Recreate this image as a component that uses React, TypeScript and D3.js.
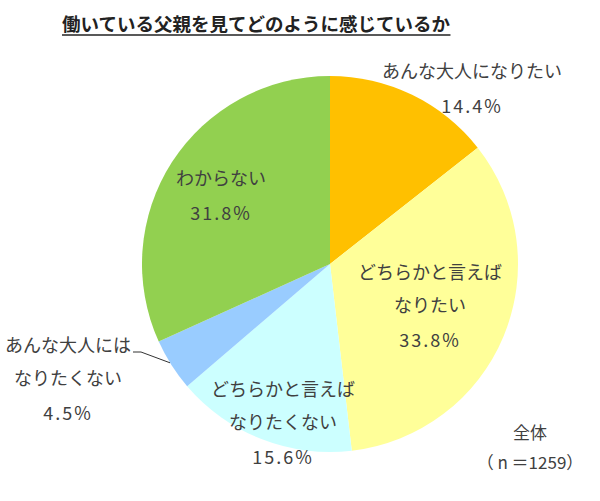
import { useRef, useEffect } from 'react'
import * as d3 from 'd3'

const categories = ['あんな大人になりたい', 'どちらかと言えばなりたい', 'どちらかと言えばなりたくない', 'あんな大人にはなりたくない', 'わからない']
const values = [14.4, 33.8, 15.6, 4.5, 31.8]
const colors = ['#FFC000', '#FFFF99', '#CCFFFF', '#99CCFF', '#92D050']
// label lines and their positions (centre x, first baseline)
const labelLines = [
  ['あんな大人になりたい', '14.4%'],
  ['どちらかと言えば', 'なりたい', '33.8%'],
  ['どちらかと言えば', 'なりたくない', '15.6%'],
  ['あんな大人には', 'なりたくない', '4.5%'],
  ['わからない', '31.8%'],
]
const labelPos: [number, number][] = [[472, 78], [430, 279], [283, 396], [68, 352], [221, 185]]

export default function App() {
  const svgRef = useRef<SVGSVGElement>(null)

  useEffect(() => {
    if (!svgRef.current) return
    const svg = d3.select(svgRef.current)
    svg.selectAll('*').remove()

    const width = 600
    const height = 501
    const cx = 330
    const cy = 264
    const radius = 188
    const font = "'Noto Sans CJK JP', 'Noto Sans', sans-serif"
    const textColor = '#404040'

    svg.attr('width', width).attr('height', height).attr('viewBox', `0 0 ${width} ${height}`)
    svg.append('rect').attr('width', width).attr('height', height).attr('fill', '#fff')

    // Title
    const title = svg.append('text')
      .attr('x', 256).attr('y', 31)
      .attr('text-anchor', 'middle')
      .style('font-family', font).style('font-size', '18.5px').style('font-weight', '700')
      .style('fill', '#222')
      .text('働いている父親を見てどのように感じているか')
    const tb = (title.node() as SVGTextElement).getBBox()
    svg.append('line')
      .attr('x1', tb.x).attr('x2', tb.x + tb.width)
      .attr('y1', 35).attr('y2', 35)
      .attr('stroke', '#222').attr('stroke-width', 1.5)

    const pie = d3.pie<number>().sort(null).value(d => d)
    const arcs = pie(values)
    const arc = d3.arc<d3.PieArcDatum<number>>().innerRadius(0).outerRadius(radius)

    const g = svg.append('g').attr('transform', `translate(${cx},${cy})`)
    g.selectAll('path')
      .data(arcs)
      .join('path')
      .attr('d', arc)
      .attr('fill', (_, i) => colors[i])
      .attr('stroke', 'none')
      .append('title').text((d, i) => `${categories[i]} ${d.data}%`)

    // Leader line for the small slice
    const small = arcs[3]
    const mid = (small.startAngle + small.endAngle) / 2
    const ex = cx + Math.sin(mid) * (radius - 2)
    const ey = cy - Math.cos(mid) * (radius - 2)
    svg.append('polyline')
      .attr('points', `133,352 141,352 ${ex - 3},${ey - 1}`)
      .attr('fill', 'none').attr('stroke', '#333').attr('stroke-width', 1)

    // Labels
    labelLines.forEach((lines, i) => {
      const [lx, ly] = labelPos[i]
      lines.forEach((line, j) => {
        const isPct = line.endsWith('%')
        svg.append('text')
          .attr('x', lx).attr('y', ly + j * 33 + (isPct ? 2 : 0))
          .attr('text-anchor', 'middle')
          .style('font-family', font).style('font-size', '18px')
          .style('letter-spacing', isPct ? '2px' : '0px')
          .style('fill', textColor)
          .text(line)
      })
    })

    svg.append('text')
      .attr('x', 530).attr('y', 439)
      .attr('text-anchor', 'middle')
      .style('font-family', font).style('font-size', '17px').style('fill', textColor)
      .text('全体')
    svg.append('text')
      .attr('x', 530).attr('y', 469)
      .attr('text-anchor', 'middle')
      .style('font-family', font).style('font-size', '17px').style('fill', textColor)
      .text('（ n ＝1259）')
  }, [])

  return <svg ref={svgRef} style={{ display: 'block', position: 'absolute', left: 0, top: 0 }} />
}
